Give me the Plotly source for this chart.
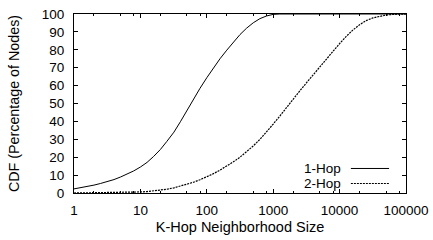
import plotly.graph_objects as go

# 1-Hop neighborhood size CDF
hop1_x = [1, 1.26, 1.58, 2, 2.5, 3.2, 4, 5, 6.3, 7.9,
          10, 12.6, 15.8, 20, 25, 32, 40, 50, 63, 79,
          100, 126, 158, 200, 251, 316, 398, 501, 631, 794,
          1000, 1260, 100000]
hop1_y = [2.3, 2.9, 3.6, 4.4, 5.3, 6.3, 7.5, 8.9, 10.5, 12.3,
          14.5, 17.1, 20.4, 24.3, 28.8, 34.0, 39.8, 46.0, 52.3, 58.5,
          64.4, 69.9, 75.0, 79.8, 84.3, 88.5, 92.1, 95.1, 97.4, 98.9,
          99.8, 100, 100]

# 2-Hop neighborhood size CDF
hop2_x = [1, 3.2, 6.3, 10, 12.6, 15.8, 20, 25, 32, 40, 50, 63, 79,
          100, 126, 158, 200, 251, 316, 398, 501, 631, 794,
          1000, 1260, 1580, 2000, 2510, 3160, 3980, 5010, 6310, 7940,
          10000, 12600, 15800, 20000, 25100, 31600, 39800, 50100, 63100, 79400, 100000]
hop2_y = [0, 0.1, 0.3, 0.6, 0.8, 1.1, 1.5, 2.1, 2.9, 3.8, 4.8, 6.0, 7.4,
          9.0, 10.8, 12.8, 15.0, 17.4, 20.0, 23.0, 26.3, 30.0, 34.0,
          38.5, 43.0, 47.8, 52.5, 57.0, 61.5, 66.0, 70.5, 75.0, 79.5,
          83.5, 87.5, 91.0, 94.0, 96.3, 97.8, 98.8, 99.4, 99.8, 100, 100]

x_ticks = [1, 10, 100, 1000, 10000, 100000]
x_tick_labels = ["1", "10", "100", "1000", "10000", "100000"]
x_minor = [2, 5, 8, 20, 50, 80, 200, 500, 800, 2000, 5000, 8000, 20000, 50000, 80000]
y_ticks = [0, 10, 20, 30, 40, 50, 60, 70, 80, 90, 100]

series_names = ["1-Hop", "2-Hop"]

FONT = "Liberation Sans, Arial, Helvetica, sans-serif"

fig = go.Figure()
fig.add_trace(go.Scatter(x=hop1_x, y=hop1_y, mode="lines", name=series_names[0],
                         line=dict(color="black", width=1)))
fig.add_trace(go.Scatter(x=hop2_x, y=hop2_y, mode="lines", name=series_names[1],
                         line=dict(color="black", width=1.2, dash="2px,1px")))

# legend drawn gnuplot-style: text right-aligned, sample to the right
leg_y = [0.137, 0.053]
leg_dash = ["solid", "2px,1px"]
for name, yy, dash in zip(series_names, leg_y, leg_dash):
    fig.add_annotation(x=0.807, y=yy, xref="paper", yref="paper", text=name,
                       showarrow=False, xanchor="right", yanchor="middle",
                       borderpad=0,
                       font=dict(family=FONT, size=13.5, color="black"))
    fig.add_shape(type="line", xref="paper", yref="paper", x0=0.834, x1=0.949, y0=yy, y1=yy,
                  line=dict(color="black", width=1, dash=dash))

fig.update_layout(
    width=433, height=240,
    margin=dict(l=74, r=27, t=14, b=47, autoexpand=False),
    paper_bgcolor="white", plot_bgcolor="white",
    showlegend=False,
    font=dict(family=FONT, size=14, color="black"),
)
fig.update_xaxes(
    type="log", range=[0, 5], automargin=False,
    tickmode="array", tickvals=x_ticks, ticktext=x_tick_labels,
    ticks="inside", ticklen=4, tickwidth=1, tickcolor="black",
    showline=True, linecolor="black", linewidth=1, mirror="allticks",
    showgrid=False, zeroline=False,
    ticklabelstandoff=5,
    minor=dict(tickmode="array", tickvals=x_minor, ticks="inside", ticklen=2,
               tickcolor="black", tickwidth=1, showgrid=False),
    title=dict(text="K-Hop Neighborhood Size", standoff=4, font=dict(size=14.5)),
    tickfont=dict(size=13.5),
)
fig.update_yaxes(
    range=[0, 100], tickmode="array", tickvals=y_ticks, automargin=False,
    ticks="inside", ticklen=4, tickwidth=1, tickcolor="black",
    showline=True, linecolor="black", linewidth=1, mirror="allticks",
    showgrid=False, zeroline=False,
    ticklabelstandoff=6,
    title=dict(text="CDF (Percentage of Nodes)", standoff=18, font=dict(size=14.3)),
    tickfont=dict(size=13.5),
)

fig.write_html("out.html", config={"displayModeBar": False},
               post_script="document.body.style.margin='0';")
